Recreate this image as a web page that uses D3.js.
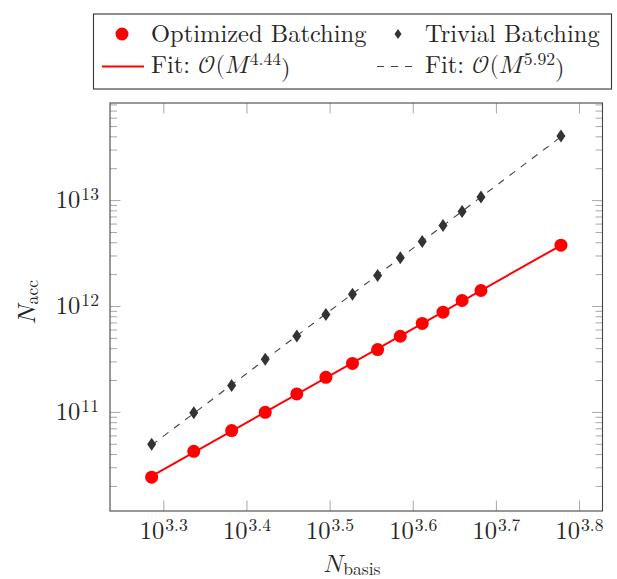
<!DOCTYPE html>
<html>
<head>
<meta charset="utf-8">
<script src="https://cdn.jsdelivr.net/npm/d3@7"></script>
<style>
  body { margin: 0; background: #fff; }
  svg { display: block; }
</style>
</head>
<body>
<svg id="chart" width="617" height="579"></svg>
<script>
// values
const basis = [1932, 2171, 2411, 2646, 2888, 3130, 3369, 3612, 3846, 4087, 4329, 4564, 4809, 6001];
const optimized = [2.42e10, 4.24e10, 6.66e10, 9.91e10, 1.477e11, 2.12e11, 2.87e11, 3.88e11, 5.18e11, 6.84e11, 8.74e11, 1.127e12, 1.401e12, 3.754e12];
const trivial = [4.94e10, 9.84e10, 1.78e11, 3.14e11, 5.21e11, 8.3e11, 1.29e12, 1.94e12, 2.85e12, 4.07e12, 5.77e12, 7.82e12, 1.07e13, 4.03e13];
const xTickExp = [3.3, 3.4, 3.5, 3.6, 3.7, 3.8];
const yTickExp = [11, 12, 13];
const seriesNames = ["Optimized Batching", "Trivial Batching"];
const fitExp = ["4.44", "5.92"];

const FONT = '"Latin Modern Roman", "Liberation Serif", serif';
const MATH = '"Latin Modern Math", "Latin Modern Roman", serif';
const svg = d3.select("#chart").attr("font-family", FONT);
const pL = 110, pR = 602.5, pT = 103, pB = 511;

const x = d3.scaleLog()
    .domain([Math.pow(10, 3.2359), Math.pow(10, 3.8282)])
    .range([pL, pR]);
const y = d3.scaleLog()
    .domain([Math.pow(10, 10.0643), Math.pow(10, 13.9168)])
    .range([pB, pT]);

const tickColor = "#a8a8a8";
const textColor = "#262626";
const fs = 24.5;

// minor y ticks 2..9 x 10^k
let minor = [];
for (let k = 10; k <= 13; k++) {
    for (let m = 2; m <= 9; m++) {
        const v = m * Math.pow(10, k);
        if (v > y.domain()[0] && v < y.domain()[1]) minor.push(v);
    }
}

function sup(sel, base, exp) {
    sel.text(null);
    sel.append("tspan").text(base);
    sel.append("tspan").attr("dy", "-0.45em").attr("dx", 1).attr("font-size", "0.72em").text(exp);
}

// bottom / top axes
const xAxisB = svg.append("g").attr("transform", `translate(0,${pB})`)
    .call(d3.axisBottom(x).tickValues(xTickExp.map(e => Math.pow(10, e))).tickSize(-10.5).tickPadding(0));
xAxisB.selectAll(".tick text").each(function(d, i) {
    const t = d3.select(this).attr("y", 28).attr("dy", null);
    sup(t, "10", xTickExp[i].toFixed(1));
});
svg.append("g").attr("transform", `translate(0,${pT})`)
    .call(d3.axisTop(x).tickValues(xTickExp.map(e => Math.pow(10, e))).tickSize(-10.5).tickFormat(""));

// left / right axes, major
const yAxisL = svg.append("g").attr("transform", `translate(${pL},0)`)
    .call(d3.axisLeft(y).tickValues(yTickExp.map(e => Math.pow(10, e))).tickSize(-10.5).tickPadding(11));
yAxisL.selectAll(".tick text").each(function(d, i) {
    const t = d3.select(this).attr("dy", "0.3em");
    sup(t, "10", String(yTickExp[i]));
});
svg.append("g").attr("transform", `translate(${pR},0)`)
    .call(d3.axisRight(y).tickValues(yTickExp.map(e => Math.pow(10, e))).tickSize(-10.5).tickFormat(""));
// minor
svg.append("g").attr("transform", `translate(${pL},0)`)
    .call(d3.axisLeft(y).tickValues(minor).tickSize(-7).tickFormat(""));
svg.append("g").attr("transform", `translate(${pR},0)`)
    .call(d3.axisRight(y).tickValues(minor).tickSize(-7).tickFormat(""));

svg.selectAll(".domain").remove();
svg.selectAll("g").attr("font-family", FONT).attr("font-size", fs);
svg.selectAll(".tick line").attr("stroke", tickColor).attr("stroke-width", 1);
svg.selectAll(".tick text").attr("fill", textColor);

// frame
svg.append("rect")
    .attr("x", pL).attr("y", pT)
    .attr("width", pR - pL).attr("height", pB - pT)
    .attr("fill", "none").attr("stroke", "#444").attr("stroke-width", 1.1);

// power law fits in log-log space
function fit(xs, ys) {
    const lx = xs.map(Math.log10), ly = ys.map(Math.log10);
    const mx = d3.mean(lx), my = d3.mean(ly);
    const k = d3.sum(lx, (v, i) => (v - mx) * (ly[i] - my)) / d3.sum(lx, v => (v - mx) * (v - mx));
    const c = my - k * mx;
    const ends = [xs[0], xs[xs.length - 1]];
    return ends.map(v => [v, Math.pow(10, c + k * Math.log10(v))]);
}
const line = d3.line().x(d => x(d[0])).y(d => y(d[1]));

svg.append("path").datum(fit(basis, trivial))
    .attr("d", line).attr("fill", "none")
    .attr("stroke", "#444").attr("stroke-width", 1.1).attr("stroke-dasharray", "7,7");
svg.append("path").datum(fit(basis, optimized))
    .attr("d", line).attr("fill", "none")
    .attr("stroke", "#ff0000").attr("stroke-width", 2);

// markers
const diamond = "M0,-6.5L4.5,0L0,6.5L-4.5,0Z";
svg.append("g").selectAll("path")
    .data(basis.map((b, i) => [b, trivial[i]]))
    .join("path")
    .attr("transform", d => `translate(${x(d[0])},${y(d[1])})`)
    .attr("d", diamond).attr("fill", "#333");
svg.append("g").selectAll("circle")
    .data(basis.map((b, i) => [b, optimized[i]]))
    .join("circle")
    .attr("cx", d => x(d[0])).attr("cy", d => y(d[1]))
    .attr("r", 6.5).attr("fill", "#ff0000");

// axis titles
const xt = svg.append("text").attr("x", 352).attr("y", 572).attr("text-anchor", "middle")
    .attr("font-size", fs).attr("fill", textColor);
xt.append("tspan").attr("font-family", MATH).text("\u{1D441}");
xt.append("tspan").attr("font-size", "0.72em").attr("dy", "0.17em").text("basis");

const yt = svg.append("text").attr("transform", "translate(35,302) rotate(-90)").attr("text-anchor", "middle")
    .attr("font-size", fs).attr("fill", textColor);
yt.append("tspan").attr("font-family", MATH).text("\u{1D441}");
yt.append("tspan").attr("font-size", "0.72em").attr("dy", "0.17em").text("acc");

// legend
const lg = svg.append("g").attr("font-size", fs).attr("fill", textColor);
lg.append("rect").attr("x", 93.5).attr("y", 14).attr("width", 518).attr("height", 75)
    .attr("fill", "#fff").attr("stroke", "#333").attr("stroke-width", 1.1);
lg.append("circle").attr("cx", 122).attr("cy", 34).attr("r", 6.5).attr("fill", "#ff0000");
lg.append("path").attr("transform", "translate(398,34)").attr("d", "M0,-5L3.5,0L0,5L-3.5,0Z").attr("fill", "#333");
lg.append("text").attr("x", 151).attr("y", 42).text(seriesNames[0]);
lg.append("text").attr("x", 425).attr("y", 42).text(seriesNames[1]);
lg.append("line").attr("x1", 102).attr("x2", 144).attr("y1", 66.5).attr("y2", 66.5)
    .attr("stroke", "#ff0000").attr("stroke-width", 2);
lg.append("line").attr("x1", 377).attr("x2", 414).attr("y1", 66.5).attr("y2", 66.5)
    .attr("stroke", "#444").attr("stroke-width", 1.1).attr("stroke-dasharray", "7,7");

function fitLabel(x0, exp) {
    const t = lg.append("text").attr("x", x0).attr("y", 73);
    t.append("tspan").text("Fit: ");
    t.append("tspan").attr("font-family", MATH).text("\u{1D4AA}(\u{1D440}");
    t.append("tspan").attr("dy", "-0.45em").attr("dx", 1).attr("font-size", "0.72em").text(exp);
    t.append("tspan").attr("dy", "0.45em").text(")");
}
fitLabel(151, fitExp[0]);
fitLabel(425, fitExp[1]);
</script>
</body>
</html>
